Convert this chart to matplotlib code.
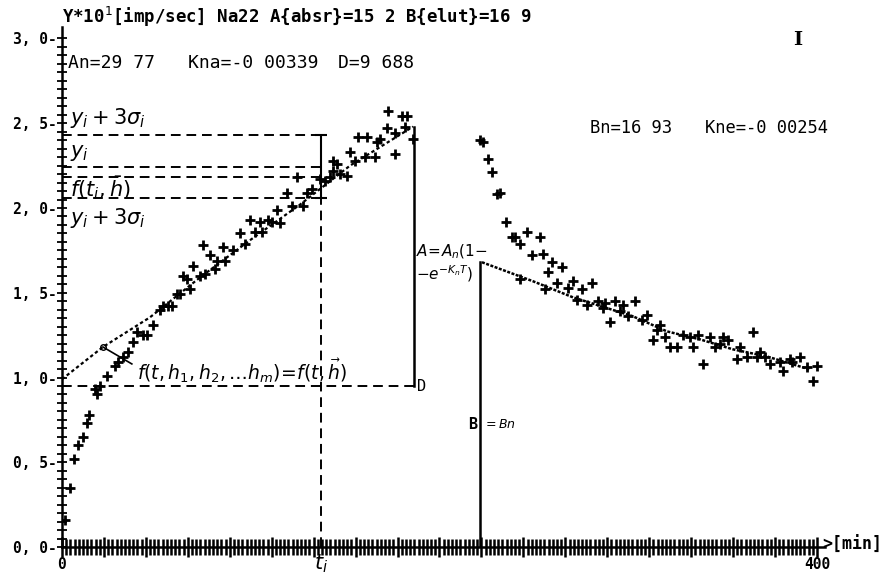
import matplotlib.pyplot as plt
import matplotlib.transforms as mtransforms
import numpy as np

# time [min], counts Y*10 [imp/sec]
abs_t = [1.6, 4.2, 6.4, 8.5, 11.1, 13.2, 14.3, 17.5, 18.5, 20.1, 23.8, 28.1, 29.7, 32.3, 35.0,
         37.6, 39.7, 42.9, 45.0, 48.2, 51.9, 53.5, 56.2, 58.3, 60.9, 62.5, 64.1, 66.2, 67.8,
         69.4, 73.1, 74.7, 75.8, 78.4, 81.1, 82.1, 85.3, 86.4, 90.6, 94.3, 97.0, 99.6, 102.3,
         104.9, 106.0, 109.1, 111.3, 113.9, 115.5, 119.2, 121.9, 124.5, 127.7, 129.8, 132.5,
         136.7, 139.3, 142.0, 143.6, 143.6, 145.7, 147.3, 151.0, 152.6, 155.2, 156.8, 160.5,
         161.6, 165.8, 166.9, 168.5, 172.2, 172.7, 176.4, 176.4, 180.1, 181.7, 182.8, 186.0]
abs_y = [0.16, 0.35, 0.52, 0.60, 0.65, 0.73, 0.78, 0.93, 0.90, 0.95, 1.01, 1.07, 1.09, 1.12, 1.15,
         1.21, 1.27, 1.25, 1.25, 1.31, 1.40, 1.42, 1.42, 1.42, 1.49, 1.49, 1.60, 1.58, 1.52,
         1.66, 1.60, 1.78, 1.61, 1.72, 1.64, 1.69, 1.77, 1.69, 1.75, 1.85, 1.79, 1.93, 1.86,
         1.92, 1.86, 1.93, 1.92, 1.99, 1.91, 2.09, 2.01, 2.18, 2.01, 2.09, 2.11,
         2.17, 2.16, 2.18, 2.22, 2.28, 2.26, 2.20, 2.19, 2.33, 2.28, 2.42, 2.30,
         2.42, 2.30, 2.39, 2.41, 2.47, 2.57, 2.32, 2.44, 2.54, 2.48, 2.54, 2.41]

fit_abs_t = [0, 21.7, 46.6, 73.1, 99.6, 126.1, 152.6, 186.0]
fit_abs_y = [0.99, 1.18, 1.355, 1.59, 1.81, 2.02, 2.25, 2.48]

el_t = [221.5, 223.0, 225.7, 227.8, 230.5, 232.1, 235.2, 238.4, 240.0, 242.6, 242.6, 246.4, 249.0,
        253.2, 254.8, 255.9, 257.5, 259.6, 262.3, 264.9, 268.1, 270.7, 272.8, 275.5, 278.1,
        280.8, 284.0, 286.6, 287.7, 290.3, 293.0, 295.6, 297.2, 299.9, 303.6, 307.3, 309.9,
        313.1, 315.2, 316.8, 319.5, 322.1, 325.8, 329.0, 332.7, 334.3, 337.0, 339.6, 343.3,
        345.9, 348.6, 350.2, 352.8, 357.6, 359.2, 362.9, 366.1, 368.2, 369.8, 372.5, 375.1,
        380.4, 382.0, 385.7, 386.8, 391.0, 394.7, 397.9, 400.0]
el_y = [2.40, 2.39, 2.29, 2.21, 2.08, 2.09, 1.92, 1.83, 1.83, 1.79, 1.58, 1.86, 1.72,
        1.83, 1.73, 1.52, 1.62, 1.68, 1.56, 1.65, 1.53, 1.57, 1.46, 1.52, 1.43,
        1.56, 1.45, 1.41, 1.44, 1.33, 1.45, 1.39, 1.43, 1.36, 1.45, 1.34, 1.37,
        1.22, 1.28, 1.31, 1.24, 1.18, 1.18, 1.25, 1.24, 1.18, 1.25, 1.08, 1.24,
        1.18, 1.20, 1.24, 1.22, 1.11, 1.18, 1.12, 1.27, 1.12, 1.15, 1.12, 1.08,
        1.09, 1.04, 1.11, 1.09, 1.12, 1.06, 0.98, 1.07]

fit_el_t = [222.5, 249.5, 270.7, 302.5, 320.5, 338.0, 355.5, 373.5, 396.3]
fit_el_y = [1.68, 1.568, 1.473, 1.361, 1.272, 1.225, 1.166, 1.124, 1.047]

t_i = 137.2
band = [2.43, 2.24, 2.18, 2.06]     # y_i+3s, y_i, f(t_i,h), y_i-3s
D_level = 0.947
t_abs_end = 186.5
t_el_start = 221.5

mono = 'DejaVu Sans Mono'
plt.rcParams['mathtext.fontset'] = 'dejavusans'

fig = plt.figure(figsize=(8.87, 5.75), dpi=100)
ax = fig.add_axes([62 / 887, 28 / 575, 404 * 1.8875 / 887, 3.07 * 169.5 / 575])
ax.set_xlim(0, 404)
ax.set_ylim(0, 3.07)
for s in ['top', 'right']:
    ax.spines[s].set_visible(False)
for s in ['left', 'bottom']:
    ax.spines[s].set_linewidth(1.8)

# ticks
ax.set_xticks(np.linspace(0, 400, 19))
ax.set_xticks(np.linspace(0, 400, 181), minor=True)
ax.set_xticklabels(['0'] + [''] * 17 + ['400'], family=mono, fontsize=10.5, fontweight='bold')
ax.get_xticklabels()[-1].set_transform(
    ax.get_xticklabels()[-1].get_transform()
    + mtransforms.ScaledTranslation(-0.12, 0, fig.dpi_scale_trans))
ax.tick_params(axis='x', which='major', direction='inout', length=14, width=1.8, pad=0)
ax.tick_params(axis='x', which='minor', direction='inout', length=11, width=1.8)
yt = np.arange(0, 3.01, 0.5)
ax.set_yticks(yt)
ax.set_yticks(np.arange(0, 3.01, 0.05), minor=True)
ax.set_yticklabels([f'{v:.1f}'.replace('.', ', ') + '-' for v in yt],
                   family=mono, fontsize=10.5, fontweight='bold')
ax.tick_params(axis='y', which='both', direction='inout', length=7, width=1.3, pad=0)

# data and fits
ax.plot(abs_t, abs_y, '+', color='k', ms=6.5, mew=2)
ax.plot(el_t, el_y, '+', color='k', ms=6.5, mew=2)
ax.plot(fit_abs_t, fit_abs_y, color='k', lw=1.6, ls=(0, (1.5, 1.2)))
ax.plot(fit_el_t, fit_el_y, color='k', lw=1.8, ls=(0, (1.2, 0.6)))

# construction lines
dash = (0, (5, 3))
ax.plot([0, t_abs_end], [D_level, D_level], color='k', lw=1.4, ls=dash)
ax.plot([t_abs_end, t_abs_end], [D_level, fit_abs_y[-1]], color='k', lw=1.8)
ax.plot([t_el_start, t_el_start], [0, fit_el_y[0]], color='k', lw=1.8)
ax.plot([t_i, t_i], [0, band[-1]], color='k', lw=1.4, ls=dash)
for lev in band:
    ax.plot([0, t_i], [lev, lev], color='k', lw=1.4, ls=dash)
ax.errorbar([t_i], [(band[0] + band[-1]) / 2], yerr=[(band[0] - band[-1]) / 2],
            color='k', lw=1.5, capsize=4, capthick=1.5)

# printed text
fig.text(62 / 887, 1 - 17 / 575, r'Y*10$^1$[imp/sec] Na22 A{absr}=15 2 B{elut}=16 9',
         family=mono, fontsize=12.5, fontweight='bold', va='center')
for s, x in [('An=29 77', 68), ('Kna=-0 00339', 188), ('D=9 688', 338)]:
    fig.text(x / 887, 1 - 63 / 575, s, family=mono, fontsize=13, va='center')
for s, x in [('Bn=16 93', 590), ('Kne=-0 00254', 705)]:
    fig.text(x / 887, 1 - 128 / 575, s, family=mono, fontsize=12.3, va='center')
fig.text(798 / 887, 1 - 40 / 575, 'I', family='DejaVu Serif', fontsize=14, fontweight='bold',
         ha='center', va='center')
fig.text(822 / 887, 1 - 545 / 575, '>[min]', family=mono, fontsize=12, fontweight='bold',
         va='center')
ax.text(t_abs_end + 1.5, D_level, 'D', family=mono, fontsize=11, va='center')
ax.text(t_el_start - 1.5, 0.72, 'B', family=mono, fontsize=11, fontweight='bold',
        ha='right', va='center')
ax.text(t_el_start + 1.5, 0.72, r'$=\mathit{Bn}$', fontsize=9, va='center')

# handwritten labels
hw = dict(fontsize=15, va='center')
ax.text(4, band[0] + 0.1, r'$y_i + 3\sigma_i$', **hw)
ax.text(4, (band[0] + band[1]) / 2 - 0.01, r'$y_i$', **hw)
ax.text(4, (band[2] + band[3]) / 2, r'$f(t_i,\bar{h})$', **hw)
ax.text(4, band[3] - 0.12, r'$y_i + 3\sigma_i$', **hw)
ax.text(40, 1.04, r'$f(t,h_1,h_2,\ldots h_m)\!=\!f(t,\vec{h})$', fontsize=13.5, va='center')
ax.plot([21.7], [1.18], 'o', mfc='none', mec='k', ms=4, mew=1)
ax.plot([21.7, 37.0], [1.18, 1.08], color='k', lw=1.2)
ax.text(t_abs_end + 1.0, 1.74, r'$A\!=\!A_n(1\!-$', fontsize=11, va='center')
ax.text(t_abs_end + 1.0, 1.61, r'$-e^{-K_n T})$', fontsize=11, va='center')
ax.text(t_i, -0.1, r'$t_i$', fontsize=15, ha='center', va='center')

fig.savefig('out.png', dpi=100)
